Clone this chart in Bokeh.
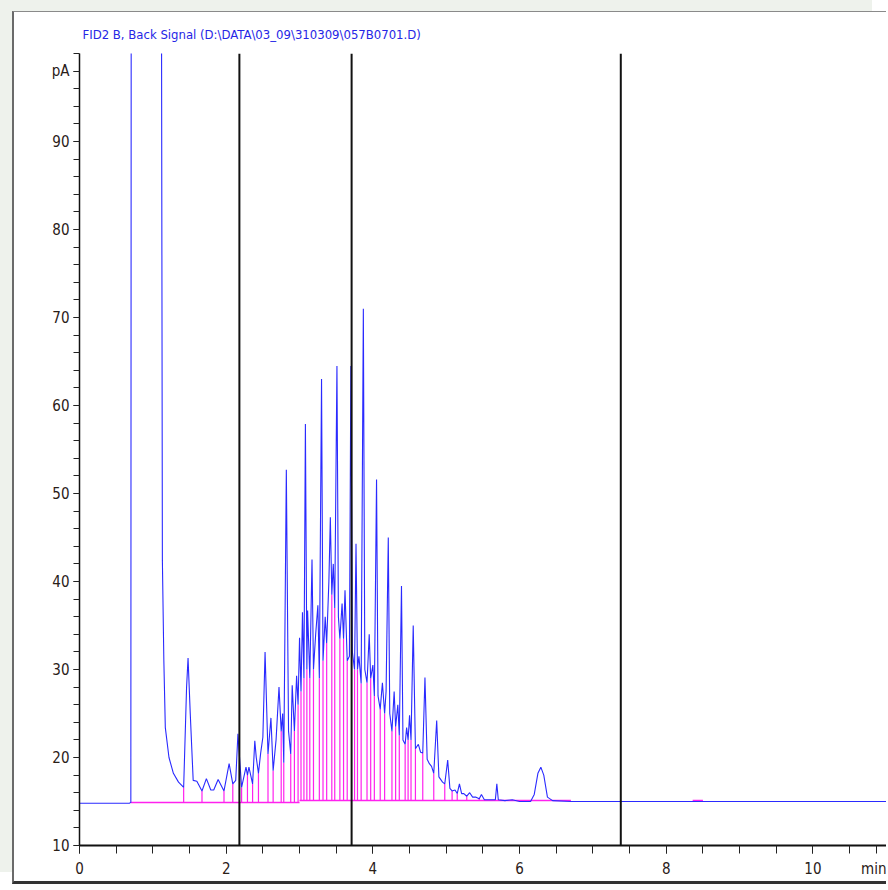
import numpy as np
from bokeh.plotting import figure
from bokeh.models import FixedTicker, Span, Range1d
from bokeh.embed import file_html
from bokeh.resources import INLINE

# ---- data ----
title_text = "FID2 B, Back Signal (D:\\DATA\\03_09\\310309\\057B0701.D)"

trace_t = [0.00, 0.30, 0.68, 0.70, 0.71, 1.10, 1.13, 1.15, 1.17, 1.22, 1.28, 1.35, 1.42,
           1.46, 1.48, 1.51, 1.55, 1.60, 1.67, 1.73, 1.79, 1.83, 1.89, 1.97, 2.04, 2.09,
           2.13, 2.16, 2.21, 2.27, 2.29, 2.31, 2.36, 2.39, 2.41, 2.44, 2.47, 2.50, 2.53,
           2.57, 2.61, 2.64, 2.68, 2.72, 2.75, 2.77, 2.785, 2.82, 2.85, 2.88, 2.90, 2.93,
           2.96, 2.98, 3.00, 3.02, 3.04, 3.06, 3.08, 3.10, 3.11, 3.14, 3.17, 3.19, 3.22,
           3.25, 3.27, 3.30, 3.32, 3.35, 3.37, 3.40, 3.42, 3.44, 3.46, 3.48, 3.51, 3.53,
           3.55, 3.58, 3.60, 3.62, 3.65, 3.68, 3.70, 3.72, 3.75, 3.77, 3.79, 3.81, 3.84,
           3.87, 3.89, 3.92, 3.95, 3.97, 4.00, 4.02, 4.05, 4.07, 4.10, 4.13, 4.16, 4.18,
           4.21, 4.23, 4.26, 4.29, 4.31, 4.34, 4.36, 4.39, 4.41, 4.44, 4.46, 4.48, 4.50,
           4.52, 4.55, 4.58, 4.62, 4.65, 4.68, 4.71, 4.74, 4.77, 4.80, 4.83, 4.87, 4.90,
           4.95, 4.98, 5.02, 5.05, 5.08, 5.12, 5.15, 5.18, 5.21, 5.24, 5.28, 5.32, 5.36,
           5.40, 5.45, 5.48, 5.52, 5.60, 5.67, 5.69, 5.71, 5.80, 5.90, 6.00, 6.15, 6.20,
           6.25, 6.29, 6.33, 6.38, 6.45, 6.70, 8.00, 10.0, 11.05]
trace_pa = [14.8, 14.8, 14.8, 14.9, 200.0, 200.0, 42.4, 31.0, 23.4, 20.0, 18.2, 17.2, 16.6,
            28.0, 31.3, 25.0, 17.4, 17.3, 16.2, 17.6, 16.3, 16.3, 17.5, 16.2, 19.3, 17.0,
            17.4, 22.7, 16.6, 18.9, 18.0, 18.9, 17.0, 21.9, 20.0, 18.2, 20.5, 22.3, 32.0,
            20.4, 24.5, 18.5, 22.0, 28.0, 23.0, 25.0, 19.4, 52.7, 23.0, 20.4, 28.2, 23.0,
            29.3, 26.0, 33.6, 27.5, 36.5, 29.0, 57.9, 30.0, 36.7, 29.0, 42.5, 30.0, 34.0,
            37.3, 29.0, 63.0, 31.0, 36.0, 33.0, 40.0, 47.3, 38.5, 42.0, 37.0, 64.5, 36.0,
            33.5, 37.5, 33.5, 39.0, 31.0, 31.5, 64.5, 32.0, 30.0, 44.3, 30.0, 31.5, 28.4,
            71.0, 30.0, 28.5, 34.0, 29.0, 30.5, 27.0, 51.6, 27.0, 25.5, 28.5, 25.0, 27.5,
            45.0, 25.0, 23.0, 27.5, 23.5, 26.0, 22.5, 39.5, 22.0, 21.5, 23.4, 22.0, 24.8,
            22.0, 35.0, 21.0, 21.5, 20.6, 20.5, 29.1, 19.8, 19.3, 19.0, 18.2, 24.2, 17.8,
            17.2, 17.0, 19.7, 16.5, 16.2, 16.3, 15.9, 17.0, 15.9, 15.9, 15.6, 16.0, 15.5,
            15.5, 15.3, 15.8, 15.2, 15.2, 15.2, 17.0, 15.2, 15.1, 15.2, 15.0, 15.0, 15.8,
            18.2, 18.9, 18.0, 15.5, 15.1, 15.0, 15.0, 15.0, 15.0]

# integration baseline segments (pink)
base_t0 = [0.70, 3.00, 8.36]
base_t1 = [3.00, 6.70, 8.50]
base_pa = [14.9, 15.1, 15.1]

# time marks (black vertical lines)
marks_t = [2.18, 3.71, 7.38]

y_major = [10, 20, 30, 40, 50, 60, 70, 80, 90, 98]
y_labels = {98: "pA"}
x_major = [0, 2, 4, 6, 8, 10, 10.86]
x_labels = {10.86: "min"}

# ---- figure ----
FONT = "DejaVu Sans Condensed"
TXT = "#2a2018"

p = figure(width=874, height=873, output_backend="svg", toolbar_location=None,
           x_range=Range1d(0, 11.03), y_range=Range1d(10, 100),
           min_border_left=65, min_border_right=0, min_border_top=41,
           min_border_bottom=40)
p.styles = {"margin-left": "12px", "margin-top": "11px",
            "border-left": "2px solid #6a6a6a", "border-top": "1px solid #8a8a8a",
            "border-bottom": "3px solid #333333",
            "box-shadow": "-14px -12px 0 0 #eef2ec"}
p.grid.visible = False
p.outline_line_color = None
p.background_fill_color = "white"
p.border_fill_color = "white"

p.title.text = title_text
p.title.text_color = "#2626e6"
p.title.text_font = FONT
p.title.text_font_size = "13px"
p.title.text_font_style = "normal"
p.title.align = "left"
p.title.vertical_align = "top"
p.title.offset = 3
p.title.standoff = 20

# axes
ya = p.yaxis[0]
ya.ticker = FixedTicker(ticks=y_major, minor_ticks=list(range(10, 101, 2)))
ya.major_label_overrides = y_labels
ya.axis_line_color = "#111111"
ya.axis_line_width = 1.5
ya.major_tick_out = 6
ya.major_tick_in = 0
ya.minor_tick_out = 6
ya.minor_tick_in = 0
ya.major_tick_line_color = "#222222"
ya.minor_tick_line_color = "#222222"
ya.major_label_text_font = FONT
ya.major_label_text_font_size = "15px"
ya.major_label_text_color = TXT
ya.major_label_standoff = 4

xa = p.xaxis[0]
xa.ticker = FixedTicker(ticks=x_major, minor_ticks=list(np.arange(0, 11.01, 0.5)))
xa.major_label_overrides = x_labels
xa.axis_line_color = "#111111"
xa.axis_line_width = 2
xa.major_tick_out = 8
xa.major_tick_in = 0
xa.minor_tick_out = 8
xa.minor_tick_in = 0
xa.major_tick_line_color = "#222222"
xa.minor_tick_line_color = "#222222"
xa.major_label_text_font = FONT
xa.major_label_text_font_size = "15px"
xa.major_label_text_color = TXT
xa.major_label_standoff = 6

# pink baselines
p.segment(x0=base_t0, x1=base_t1, y0=base_pa, y1=base_pa,
          line_color="#ff22ee", line_width=1.5)

# pink drop lines at valleys of the trace
tt = np.array(trace_t)
yy = np.array(trace_pa)
drop_x, drop_y0, drop_y1 = [], [], []
for i in range(1, len(tt) - 1):
    if 1.40 <= tt[i] <= 5.6 and yy[i] < yy[i - 1] and yy[i] < yy[i + 1]:
        b = 14.9 if tt[i] < 3.0 else 15.1
        drop_x.append(tt[i]); drop_y0.append(b); drop_y1.append(yy[i])
p.segment(x0=drop_x, x1=drop_x, y0=drop_y0, y1=drop_y1,
          line_color="#ff22ee", line_width=1.2)

# signal
p.line(trace_t, trace_pa, line_color="#2a2aff", line_width=1.1)

for m in marks_t:
    p.add_layout(Span(location=m, dimension="height", line_color="#111111",
                      line_width=2))

open("out.html", "w").write(file_html(p, INLINE))
